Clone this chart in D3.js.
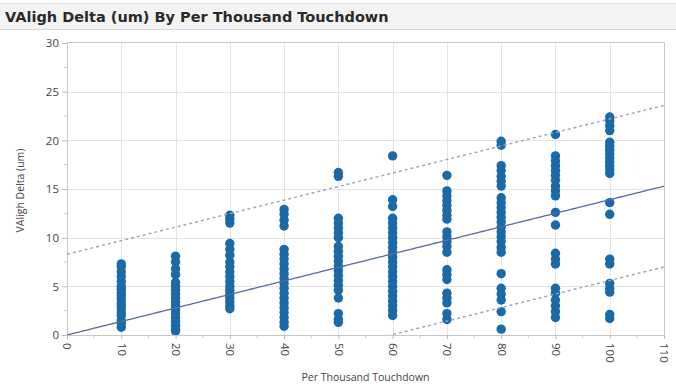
<!DOCTYPE html>
<html>
<head>
<meta charset="utf-8">
<script src="https://cdn.jsdelivr.net/npm/d3@7"></script>
<style>
  html, body { margin: 0; padding: 0; background: #fff; }
  svg { display: block; }
</style>
</head>
<body>
<svg id="chart" width="676" height="386"></svg>
<script>
// Per Thousand Touchdown groups and the VAligh Delta readings in each group
const touchdown = [10, 20, 30, 40, 50, 60, 70, 80, 90, 100];
const delta10  = [0.8, 1.2, 1.5, 2.0, 2.3, 2.7, 3.0, 3.3, 3.7, 4.0, 4.3, 4.7, 5.0, 5.5, 6.0, 6.5, 7.0, 7.3];
const delta20  = [8.1, 7.5, 6.8, 6.2, 5.4, 5.0, 4.6, 4.2, 3.8, 3.4, 3.0, 2.6, 2.2, 1.8, 1.4, 1.0, 0.6, 0.4];
const delta30  = [12.3, 11.9, 11.5, 9.4, 8.8, 8.2, 7.5, 7.0, 6.5, 6.0, 5.5, 5.0, 4.6, 4.2, 3.8, 3.4, 3.0, 2.7];
const delta40  = [12.9, 12.4, 11.8, 11.2, 8.8, 8.3, 7.8, 7.3, 6.8, 6.3, 5.8, 5.3, 4.8, 4.3, 3.8, 3.3, 2.8, 2.3, 1.8, 1.3, 0.9];
const delta50  = [16.7, 16.3, 12.0, 11.5, 11.0, 10.5, 10.0, 9.1, 8.6, 8.1, 7.6, 7.1, 6.6, 6.1, 5.6, 5.1, 4.6, 3.8, 2.2, 1.6, 1.3];
const delta60  = [18.4, 13.9, 13.2, 12.0, 11.5, 11.0, 10.5, 10.0, 9.5, 9.0, 8.5, 8.0, 7.5, 7.0, 6.5, 6.0, 5.5, 5.0, 4.5, 4.0, 3.5, 3.0, 2.5, 2.0];
const delta70  = [16.4, 14.8, 14.3, 13.8, 13.3, 12.8, 12.3, 11.9, 10.6, 10.1, 9.6, 9.1, 8.5, 6.7, 6.2, 5.7, 4.3, 3.8, 3.3, 2.2, 1.6];
const delta80  = [19.9, 19.5, 17.4, 16.9, 16.3, 15.8, 15.3, 14.1, 13.6, 13.1, 12.6, 12.1, 11.6, 11.1, 10.6, 10.1, 9.6, 9.0, 8.5, 6.3, 4.8, 4.2, 3.6, 2.4, 0.6];
const delta90  = [20.6, 18.4, 17.9, 17.4, 16.9, 16.4, 15.9, 15.3, 14.8, 14.3, 12.6, 11.3, 8.4, 7.8, 7.3, 4.8, 4.3, 3.6, 3.0, 2.4, 1.8];
const delta100 = [22.4, 22.0, 21.5, 21.0, 19.8, 19.4, 19.0, 18.6, 18.2, 17.8, 17.4, 17.0, 16.6, 13.6, 12.4, 7.8, 7.3, 5.3, 4.8, 4.4, 2.1, 1.7];
const groups = [delta10, delta20, delta30, delta40, delta50, delta60, delta70, delta80, delta90, delta100];

// Linear fit: [intercept, slope], and the half-width of the prediction band
const fitCoef = [0.0, 0.139];
const bandHalf = [8.3];

const xTicks = [0, 10, 20, 30, 40, 50, 60, 70, 80, 90, 100, 110];
const yTicks = [0, 5, 10, 15, 20, 25, 30];
const title = "VAligh Delta (um) By Per Thousand Touchdown";
const xTitle = "Per Thousand Touchdown";
const yTitle = "VAligh Delta (um)";

const svg = d3.select("#chart");
const W = 676, H = 386;
const plot = { left: 67, top: 42, right: 664, bottom: 335 };

// Title bar
svg.append("rect").attr("x", 0).attr("y", 3).attr("width", W).attr("height", 26)
  .attr("fill", "#f3f3f3").attr("stroke", "none");
svg.append("line").attr("x1", 0).attr("x2", W).attr("y1", 3.5).attr("y2", 3.5).attr("stroke", "#e2e2e2");
svg.append("line").attr("x1", 0).attr("x2", W).attr("y1", 29.5).attr("y2", 29.5).attr("stroke", "#d8d8d8");
svg.append("text").attr("x", 5).attr("y", 21.5)
  .attr("font-family", "'DejaVu Sans', sans-serif").attr("font-weight", 700)
  .attr("font-size", 14.5).attr("fill", "#2a2a2a").text(title);

const x = d3.scaleLinear().domain([0, 110]).range([plot.left, plot.right]);
const y = d3.scaleLinear().domain([0, 30]).range([plot.bottom, plot.top + 1]);

// Grid
const grid = svg.append("g").attr("stroke", "#e4e4e4").attr("stroke-width", 1);
grid.selectAll("line.h").data(yTicks.slice(1, -1)).join("line")
  .attr("x1", plot.left).attr("x2", plot.right)
  .attr("y1", d => Math.round(y(d)) + 0.5).attr("y2", d => Math.round(y(d)) + 0.5);
grid.selectAll("line.v").data(xTicks.slice(1, -1)).join("line")
  .attr("y1", plot.top).attr("y2", plot.bottom)
  .attr("x1", d => Math.round(x(d)) + 0.5).attr("x2", d => Math.round(x(d)) + 0.5);

// Frame
svg.append("rect").attr("x", plot.left + 0.5).attr("y", plot.top + 0.5)
  .attr("width", plot.right - plot.left).attr("height", plot.bottom - plot.top)
  .attr("fill", "none").attr("stroke", "#c8c8c8");

svg.append("clipPath").attr("id", "clip").append("rect")
  .attr("x", plot.left).attr("y", plot.top).attr("width", plot.right - plot.left).attr("height", plot.bottom - plot.top);

// Points
const pts = [];
touchdown.forEach((t, i) => groups[i].forEach(v => pts.push({ t, v })));
svg.append("g").attr("clip-path", "url(#clip)")
  .selectAll("circle").data(pts).join("circle")
  .attr("cx", d => x(d.t)).attr("cy", d => y(d.v)).attr("r", 4.7)
  .attr("fill", "#1b6aa7");

// Fit line and prediction band
const fit = t => fitCoef[0] + fitCoef[1] * t;
const xs = d3.range(0, 110.5, 0.5);
const lineGen = f => d3.line().x(t => x(t)).y(t => y(f(t)))(xs);
const lines = svg.append("g").attr("clip-path", "url(#clip)").attr("fill", "none");
lines.append("path").attr("d", lineGen(fit)).attr("stroke", "#5b6aa6").attr("stroke-width", 1.3);
lines.append("path").attr("d", lineGen(t => fit(t) + bandHalf[0]))
  .attr("stroke", "#95a3c4").attr("stroke-width", 1.4).attr("stroke-dasharray", "3,3");
lines.append("path").attr("d", lineGen(t => fit(t) - bandHalf[0]))
  .attr("stroke", "#95a3c4").attr("stroke-width", 1.4).attr("stroke-dasharray", "3,3");

// Axes
const yAxis = svg.append("g").attr("transform", `translate(${plot.left},0)`)
  .call(d3.axisLeft(y).tickValues(yTicks).tickSize(5).tickPadding(3));
const xAxis = svg.append("g").attr("transform", `translate(0,${plot.bottom})`)
  .call(d3.axisBottom(x).tickValues(xTicks).tickSize(4).tickPadding(3));
[xAxis, yAxis].forEach(a => {
  a.select(".domain").remove();
  a.selectAll(".tick line").attr("stroke", "#bbb");
  a.selectAll("text").attr("font-family", "'Open Sans', sans-serif").attr("font-size", 11.5).attr("fill", "#444");
});
xAxis.selectAll(".tick text")
  .attr("transform", "rotate(90)").attr("text-anchor", "start")
  .attr("x", 8).attr("y", 0).attr("dy", "0.35em");

// Minor ticks
svg.append("g").attr("stroke", "#ccc").selectAll("line")
  .data(d3.range(5, 110, 10)).join("line")
  .attr("x1", d => x(d)).attr("x2", d => x(d)).attr("y1", plot.bottom).attr("y2", plot.bottom + 3);
svg.append("g").attr("stroke", "#ccc").selectAll("line")
  .data(d3.range(2.5, 30, 5)).join("line")
  .attr("x1", plot.left - 3).attr("x2", plot.left).attr("y1", d => y(d)).attr("y2", d => y(d));

// Axis titles
svg.append("text").attr("x", (plot.left + plot.right) / 2).attr("y", 381)
  .attr("text-anchor", "middle").attr("font-family", "'Open Sans', sans-serif")
  .attr("font-size", 10.5).attr("fill", "#444").text(xTitle);
svg.append("text").attr("transform", `translate(24,${(plot.top + plot.bottom) / 2 + 2}) rotate(-90)`)
  .attr("text-anchor", "middle").attr("font-family", "'Open Sans', sans-serif")
  .attr("font-size", 10.5).attr("fill", "#444").text(yTitle);
</script>
</body>
</html>
